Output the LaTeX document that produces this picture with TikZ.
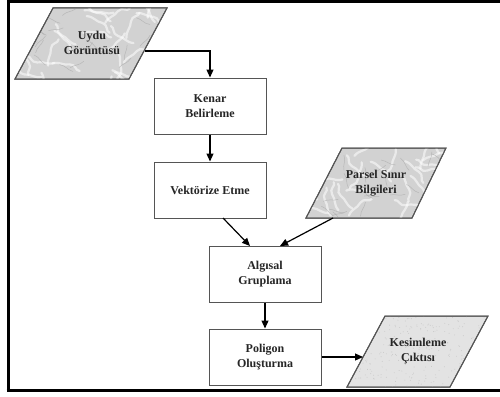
\documentclass[tikz,border=0pt]{standalone}
\usepackage{fontspec}
\setmainfont{Liberation Serif}
\usetikzlibrary{arrows.meta}
\definecolor{marble}{HTML}{D2D2D2}
\definecolor{speck}{HTML}{E3E3E3}
\definecolor{edge}{HTML}{555555}
\tikzset{
  box/.style={draw=edge, line width=1pt, fill=white, minimum width=112pt, minimum height=56pt, inner sep=0pt, align=center, font=\fontsize{12}{15.5}\selectfont\bfseries, text=black!85},
  lbl/.style={inner sep=0pt, align=center, font=\fontsize{12}{15.5}\selectfont\bfseries, text=black!85},
  para/.style={draw=edge, line width=1pt},
  conn/.style={line width=1.2pt, -{Triangle[length=8pt,width=7pt]}},
  vein/.style={white, line width=2.2pt, opacity=0.55, line cap=round},
  darkvein/.style={gray!70, line width=0.5pt, opacity=0.6, line cap=round},
}
\begin{document}
\begin{tikzpicture}[x=1pt,y=-1pt]
\useasboundingbox (0,0) rectangle (500,396);
% frame
\draw[line width=3pt] (8,1.5) -- (500,1.5);
\draw[line width=3pt] (8,0) -- (8,392);
\draw[line width=3pt] (6.5,390.5) -- (500,390.5);
% parallelograms
\pgfmathsetseed{7}
\path[para, fill=marble] (53,8) -- (167,8) -- (129,79) -- (15,79) -- cycle;
\begin{scope}
\clip (53,8) -- (167,8) -- (129,79) -- (15,79) -- cycle;
\foreach \i in {1,...,30}{
  \pgfmathsetmacro{\xa}{15+rnd*152}\pgfmathsetmacro{\ya}{8+rnd*71}\pgfmathsetmacro{\an}{rnd*360}
  \draw[vein, rotate around={\an:(\xa,\ya)}] (\xa,\ya) .. controls +(6,-5) and +(-6,4) .. +(16,-6) .. controls +(6,-3) and +(-4,2) .. +(28,-4);
}
\foreach \i in {1,...,22}{
  \pgfmathsetmacro{\xa}{15+rnd*152}\pgfmathsetmacro{\ya}{8+rnd*71}\pgfmathsetmacro{\an}{rnd*360}
  \draw[darkvein, rotate around={\an:(\xa,\ya)}] (\xa,\ya) .. controls +(5,-4) and +(-5,3) .. +(14,-5);
}
\end{scope}
\path[para, fill=marble] (342,148) -- (446,148) -- (412,218) -- (306,218) -- cycle;
\begin{scope}
\clip (342,148) -- (446,148) -- (412,218) -- (306,218) -- cycle;
\foreach \i in {1,...,28}{
  \pgfmathsetmacro{\xa}{306+rnd*140}\pgfmathsetmacro{\ya}{148+rnd*70}\pgfmathsetmacro{\an}{rnd*360}
  \draw[vein, rotate around={\an:(\xa,\ya)}] (\xa,\ya) .. controls +(6,-5) and +(-6,4) .. +(16,-6) .. controls +(6,-3) and +(-4,2) .. +(28,-4);
}
\foreach \i in {1,...,20}{
  \pgfmathsetmacro{\xa}{306+rnd*140}\pgfmathsetmacro{\ya}{148+rnd*70}\pgfmathsetmacro{\an}{rnd*360}
  \draw[darkvein, rotate around={\an:(\xa,\ya)}] (\xa,\ya) .. controls +(5,-4) and +(-5,3) .. +(14,-5);
}
\end{scope}
\path[para, fill=speck] (385,316) -- (488,316) -- (450,387) -- (347,387) -- cycle;
\begin{scope}
\clip (385,316) -- (488,316) -- (450,387) -- (347,387) -- cycle;
\foreach \i in {1,...,260}{
  \pgfmathsetmacro{\xa}{347+rnd*141}\pgfmathsetmacro{\ya}{316+rnd*71}
  \fill[gray!45] (\xa,\ya) circle (0.45pt);
}
\end{scope}
\draw[para] (53,8) -- (167,8) -- (129,79) -- (15,79) -- cycle;
\draw[para] (342,148) -- (446,148) -- (412,218) -- (306,218) -- cycle;
\draw[para] (385,316) -- (488,316) -- (450,387) -- (347,387) -- cycle;
% labels in parallelograms
\node[lbl] (uydu) at (92,43) {Uydu\\Görüntüsü};
\node[lbl] (parsel) at (376,183) {Parsel Sınır\\Bilgileri};
\node[lbl] (kesim) at (418,351) {Kesimleme\\Çıktısı};
% boxes
\node[box] (kenar) at (210,106) {Kenar\\Belirleme};
\node[box] (vekt) at (210,190) {Vektörize Etme};
\node[box] (algi) at (265,274) {Algısal\\Gruplama};
\node[box] (poli) at (265,357) {Poligon\\Oluşturma};
% connector end points on parallelogram edges
\coordinate (uyduout) at (145,51);
\coordinate (parselout) at (333,218);
\coordinate (kesimin) at (363,357);
\coordinate (vektout) at (223,218);
\coordinate (algiinA) at (250,246);
\coordinate (algiinB) at (280,246);
% connectors
\draw[conn] (uyduout) -| (kenar.north);
\draw[conn] (kenar.south) -- (vekt.north);
\draw[conn] (vektout) -- (algiinA);
\draw[conn] (parselout) -- (algiinB);
\draw[conn] (algi.south) -- (poli.north);
\draw[conn] (poli.east) -- (kesimin);
\end{tikzpicture}
\end{document}
